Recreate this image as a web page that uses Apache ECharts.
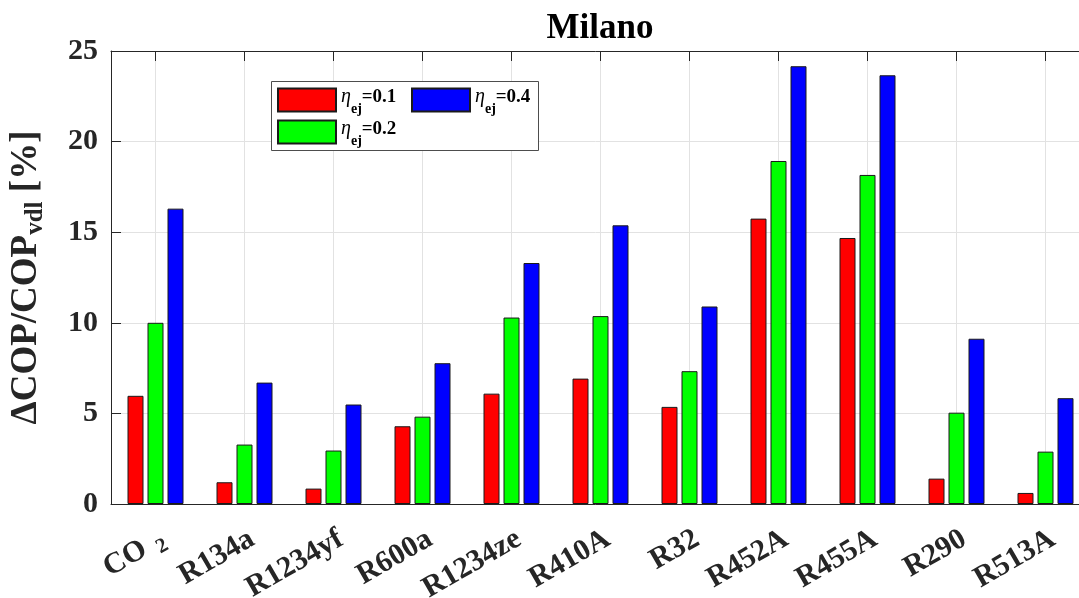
<!DOCTYPE html>
<html>
<head>
<meta charset="utf-8">
<title>Milano</title>
<script src="https://cdn.jsdelivr.net/npm/echarts@6/dist/echarts.min.js"></script>
<style>
  html, body { margin: 0; padding: 0; background: #fff; }
  #chart { width: 1079px; height: 598px; }
</style>
</head>
<body>
<div id="chart"></div>
<script>
// Refrigerants on the x axis ("_" marks a subscript)
const refrigerants = ['CO_2', 'R134a', 'R1234yf', 'R600a', 'R1234ze', 'R410A', 'R32', 'R452A', 'R455A', 'R290', 'R513A'];

// Ejector efficiencies shown in the legend
const etaValues = ['0.1', '0.2', '0.4'];

// ΔCOP/COP_vdl [%] for each ejector efficiency
const gainEta01 = [5.97, 1.2, 0.85, 4.29, 6.09, 6.92, 5.36, 15.75, 14.68, 1.40, 0.61];
const gainEta02 = [10.0, 3.28, 2.95, 4.82, 10.29, 10.37, 7.33, 18.93, 18.16, 5.04, 2.89];
const gainEta04 = [16.3, 6.7, 5.49, 7.77, 13.3, 15.38, 10.9, 24.16, 23.66, 9.12, 5.84];

// Y axis ticks
const yMin = 0, yMax = 25, yStep = 5;

const seriesValues = [gainEta01, gainEta02, gainEta04];
const seriesColors = ['#ff0000', '#00ff00', '#0000ff'];
const seriesNames = etaValues.map(v => 'η_ej=' + v);

const FONT = '"Liberation Serif", "Times New Roman", serif';
const AXIS_COLOR = '#262626';
const GRID_COLOR = '#e2e2e2';

// "CO_2" -> rich text with a lowered, smaller "2"
function subscriptLabel(text) {
  const i = text.indexOf('_');
  if (i < 0) return '{m|' + text + '}';
  return '{m|' + text.slice(0, i) + '}{s|  ' + text.slice(i + 1) + '}';
}

// Legend entry "η_ej=0.1" -> italic η, subscript ej, bold value
function legendLabel(name) {
  const v = name.split('=')[1];
  return '{g|η}{s|ej}{b|=' + v + '}';
}

const legendText = {
  fontFamily: FONT,
  color: '#000',
  rich: {
    g: { fontFamily: FONT, fontStyle: 'italic', fontSize: 20, color: '#000', padding: [0, 0, 6, 0] },
    s: { fontFamily: FONT, fontWeight: 'bold', fontSize: 14, color: '#000', padding: [18, 0, 0, 0] },
    b: { fontFamily: FONT, fontWeight: 'bold', fontSize: 19, color: '#000', padding: [0, 0, 6, 0] }
  }
};

function legendColumn(names, left) {
  return {
    orient: 'vertical',
    left: left,
    top: 87,
    itemWidth: 58,
    itemHeight: 23,
    itemGap: 3,
    padding: 0,
    icon: 'rect',
    z: 6,
    data: names,
    formatter: legendLabel,
    textStyle: legendText
  };
}

const chart = echarts.init(document.getElementById('chart'), null, { renderer: 'canvas' });

const option = {
  animation: false,
  backgroundColor: '#ffffff',
  title: {
    text: 'Milano',
    left: 595,
    top: 6,
    textAlign: 'center',
    textStyle: { fontFamily: FONT, fontWeight: 'bold', fontSize: 35, color: '#000' }
  },
  // legend frame
  graphic: [{
    type: 'rect',
    left: 271,
    top: 81,
    z: 5,
    shape: { width: 267, height: 69 },
    style: { fill: '#ffffff', stroke: '#4d4d4d', lineWidth: 1 }
  }],
  legend: [
    legendColumn([seriesNames[0], seriesNames[1]], 277),
    legendColumn([seriesNames[2]], 411)
  ],
  grid: {
    left: 111,
    top: 51,
    width: 979,
    height: 453,
    containLabel: false,
    outerBoundsMode: 'none'
  },
  xAxis: [
    {
      type: 'category',
      position: 'bottom',
      data: refrigerants,
      axisLine: { show: true, lineStyle: { color: AXIS_COLOR, width: 1 } },
      axisTick: { show: true, inside: true, length: 10, alignWithLabel: true, lineStyle: { color: AXIS_COLOR } },
      splitLine: { show: true, interval: 0, alignWithLabel: true, lineStyle: { color: GRID_COLOR, width: 1 } },
      axisLabel: {
        interval: 0,
        rotate: 30,
        margin: 20,
        align: 'right',
        verticalAlign: 'top',
        lineHeight: 30,
        fontFamily: FONT,
        fontWeight: 'bold',
        fontSize: 30,
        color: AXIS_COLOR,
        formatter: subscriptLabel,
        rich: {
          m: { fontFamily: FONT, fontWeight: 'bold', fontSize: 30, lineHeight: 30, color: AXIS_COLOR },
          s: { fontFamily: FONT, fontWeight: 'bold', fontSize: 21, lineHeight: 30, color: AXIS_COLOR, padding: [16, 0, 0, 0] }
        }
      }
    },
    {
      type: 'category',
      position: 'top',
      data: refrigerants,
      axisLine: { show: true, lineStyle: { color: AXIS_COLOR, width: 1 } },
      axisTick: { show: true, inside: true, length: 10, alignWithLabel: true, lineStyle: { color: AXIS_COLOR } },
      axisLabel: { show: false },
      splitLine: { show: false }
    }
  ],
  yAxis: {
    type: 'value',
    min: yMin,
    max: yMax,
    interval: yStep,
    name: '{m|ΔCOP/COP}{s|vdl}{m| [%]}',
    nameLocation: 'middle',
    nameRotate: 90,
    nameGap: 65,
    nameMoveOverlap: false,
    nameTextStyle: {
      fontFamily: FONT,
      fontWeight: 'bold',
      color: AXIS_COLOR,
      lineHeight: 40,
      rich: {
        m: { fontFamily: FONT, fontWeight: 'bold', fontSize: 37, lineHeight: 40, color: AXIS_COLOR },
        s: { fontFamily: FONT, fontWeight: 'bold', fontSize: 25, lineHeight: 40, color: AXIS_COLOR, padding: [20, 0, 0, 0] }
      }
    },
    axisLine: { show: true, lineStyle: { color: AXIS_COLOR, width: 1 } },
    axisTick: { show: true, inside: true, length: 10, lineStyle: { color: AXIS_COLOR } },
    splitLine: { show: true, lineStyle: { color: GRID_COLOR, width: 1 } },
    axisLabel: {
      margin: 13,
      fontFamily: FONT,
      fontWeight: 'bold',
      fontSize: 30,
      color: AXIS_COLOR
    }
  },
  series: seriesValues.map((vals, k) => ({
    name: seriesNames[k],
    type: 'bar',
    xAxisIndex: 0,
    barWidth: 16,
    barGap: '25%',
    data: vals,
    itemStyle: { color: seriesColors[k], borderColor: '#1a1a1a', borderWidth: 1 }
  }))
};

chart.setOption(option);
</script>
</body>
</html>
